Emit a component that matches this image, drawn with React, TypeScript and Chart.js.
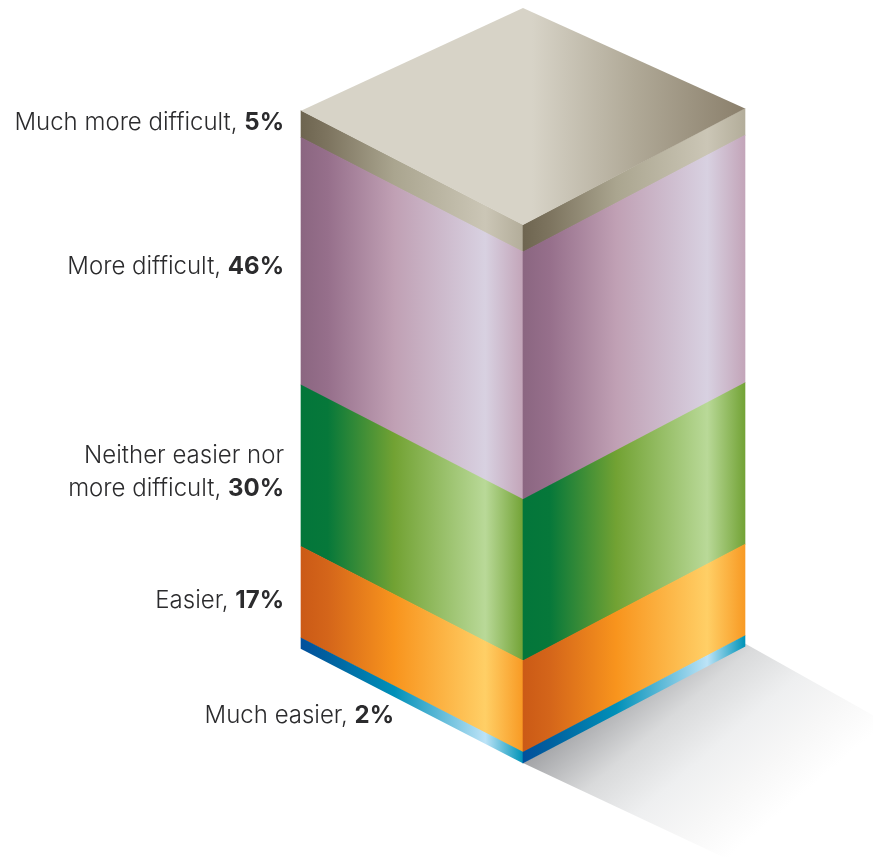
import React, { useEffect, useRef } from "react";
import { Chart, registerables } from "chart.js";

Chart.register(...registerables);

// Bottom-to-top order of the stack
const categories = ["Much easier", "Easier", "Neither easier nor more difficult", "More difficult", "Much more difficult"];
const shares = [2, 17, 30, 46, 5];
const faces = ["Left face", "Right face"];
const labelLines = [["Much easier, "], ["Easier, "], ["Neither easier nor", "more difficult, "], ["More difficult, "], ["Much more difficult, "]];
const stopsPos = [0, 0.12, 0.42, 0.83, 1];
const faceColors = [
  ["#02509c", "#01609f", "#0090b8", "#bce3f7", "#0094b8"],
  ["#cb5a16", "#d4651a", "#f8941d", "#ffcf66", "#f89a24"],
  ["#03763a", "#06783a", "#72a233", "#b9d998", "#73a336"],
  ["#8b6681", "#966f8b", "#c0a0b4", "#d8d1e1", "#c3a5b9"],
  ["#6e6550", "#7d745f", "#aaa58f", "#cbc6b6", "#b3ad9a"],
];
const labelNudge = [0, 3, 1, 0, -7];

const K_LEFT = 0.515;
const K_RIGHT = 0.525;
const TOP_BACK_Y = 8;
const FONT = "Inter";

const isoPlugin = {
  id: "iso",
  beforeDatasetsDraw(chart: any) {
    const { ctx, chartArea, scales } = chart;
    const cx = (chartArea.left + chartArea.right) / 2;
    const y0 = scales.y.getPixelForValue(0);
    const w = cx - chartArea.left;
    const g = ctx.createLinearGradient(cx, y0, cx + 133, y0 + 156);
    g.addColorStop(0, "#a2a3a6");
    g.addColorStop(0.3, "#d9dadb");
    g.addColorStop(0.55, "#eeeff0");
    g.addColorStop(0.78, "#f7f7f7");
    g.addColorStop(1, "#ffffff");
    ctx.save();
    ctx.fillStyle = g;
    ctx.beginPath();
    ctx.moveTo(cx, y0);
    ctx.lineTo(chartArea.right, y0 - w * K_RIGHT - 3);
    ctx.lineTo(chartArea.right + 232, y0 - w * K_RIGHT + 127);
    ctx.lineTo(cx + 232, y0 + 109);
    ctx.closePath();
    ctx.fill();
    ctx.restore();
  },
  beforeDatasetDraw(chart: any, args: any) {
    const { ctx, chartArea } = chart;
    const cx = (chartArea.left + chartArea.right) / 2;
    args.meta.data.forEach((el: any, i: number) => {
      ctx.save();
      if (i === 0) ctx.transform(1, K_LEFT, 0, 1, 0, -K_LEFT * cx);
      else ctx.transform(1, -K_RIGHT, 0, 1, 0, K_RIGHT * cx);
      el.draw(ctx);
      ctx.restore();
    });
    return false;
  },
  afterDatasetsDraw(chart: any) {
    const { ctx, chartArea, scales } = chart;
    const cx = (chartArea.left + chartArea.right) / 2;
    const w = cx - chartArea.left;
    const yTop = scales.y.getPixelForValue(100);
    const g = ctx.createLinearGradient(chartArea.left, 0, chartArea.right, 0);
    g.addColorStop(0, "#d7d3c7");
    g.addColorStop(0.52, "#d7d3c7");
    g.addColorStop(0.75, "#b0a997");
    g.addColorStop(1, "#8a7f6b");
    ctx.save();
    ctx.fillStyle = g;
    ctx.beginPath();
    ctx.moveTo(cx, yTop);
    ctx.lineTo(chartArea.left, yTop - w * K_LEFT);
    ctx.lineTo(cx, TOP_BACK_Y);
    ctx.lineTo(chartArea.right, yTop - w * K_RIGHT);
    ctx.closePath();
    ctx.fill();

    // Value labels, anchored on each band's mid-height at the left edge
    let cum = 0;
    const lineH = 33;
    ctx.textBaseline = "alphabetic";
    shares.forEach((v, i) => {
      const mid = scales.y.getPixelForValue(cum + v / 2);
      cum += v;
      const lines = labelLines[i];
      const isLowest = i === 0;
      const xRight = isLowest ? chartArea.left + 93 : chartArea.left - 17;
      const base = (isLowest ? scales.y.getPixelForValue(0) - 40 : mid - w * K_LEFT + 13 - (lines.length - 1) * lineH * 0.5) + labelNudge[i];
      lines.forEach((line, j) => {
        const y = base + j * lineH;
        let x = xRight;
        ctx.textAlign = "right";
        ctx.fillStyle = "#2b2b2d";
        if (j === lines.length - 1) {
          ctx.font = `700 24px ${FONT}`;
          const bold = `${v}%`;
          ctx.fillText(bold, x, y);
          x -= ctx.measureText(bold).width;
        }
        ctx.font = `300 24px ${FONT}`;
        if (j === lines.length - 1) {
          ctx.textAlign = "left";
          const t = line;
          ctx.fillText(t, x - ctx.measureText(t).width, y);
        } else {
          ctx.fillText(line, x, y);
        }
      });
    });
    ctx.restore();
  },
};

export default function App() {
  const ref = useRef<HTMLCanvasElement>(null);
  useEffect(() => {
    const chart = new Chart(ref.current!, {
      type: "bar",
      data: {
        labels: faces,
        datasets: categories.map((name, s) => ({
          label: name,
          data: faces.map(() => shares[s]),
          borderWidth: 0,
          barPercentage: 1,
          categoryPercentage: 1,
          backgroundColor: (c: any) => {
            const area = c.chart.chartArea;
            if (!area) return faceColors[s][2];
            const mid = (area.left + area.right) / 2;
            const x0 = c.dataIndex === 0 ? area.left : mid;
            const x1 = c.dataIndex === 0 ? mid : area.right;
            const g = c.chart.ctx.createLinearGradient(x0, 0, x1, 0);
            stopsPos.forEach((p, i) => g.addColorStop(p, faceColors[s][i]));
            return g;
          },
        })),
      },
      options: {
        animation: false,
        responsive: false,
        events: [],
        layout: { padding: { left: 301, right: 128, top: 225, bottom: 96 } },
        plugins: { legend: { display: false }, tooltip: { enabled: false } },
        scales: {
          x: { display: false, stacked: true },
          y: { display: false, stacked: true, min: 0, max: 100 },
        },
      },
      plugins: [isoPlugin],
    } as any);
    return () => chart.destroy();
  }, []);
  return (
    <div style={{ position: "absolute", left: 0, top: 0, width: 873, height: 859, overflow: "hidden", background: "#fff" }}>
      <canvas ref={ref} width={873} height={859} style={{ display: "block" }} />
    </div>
  );
}
